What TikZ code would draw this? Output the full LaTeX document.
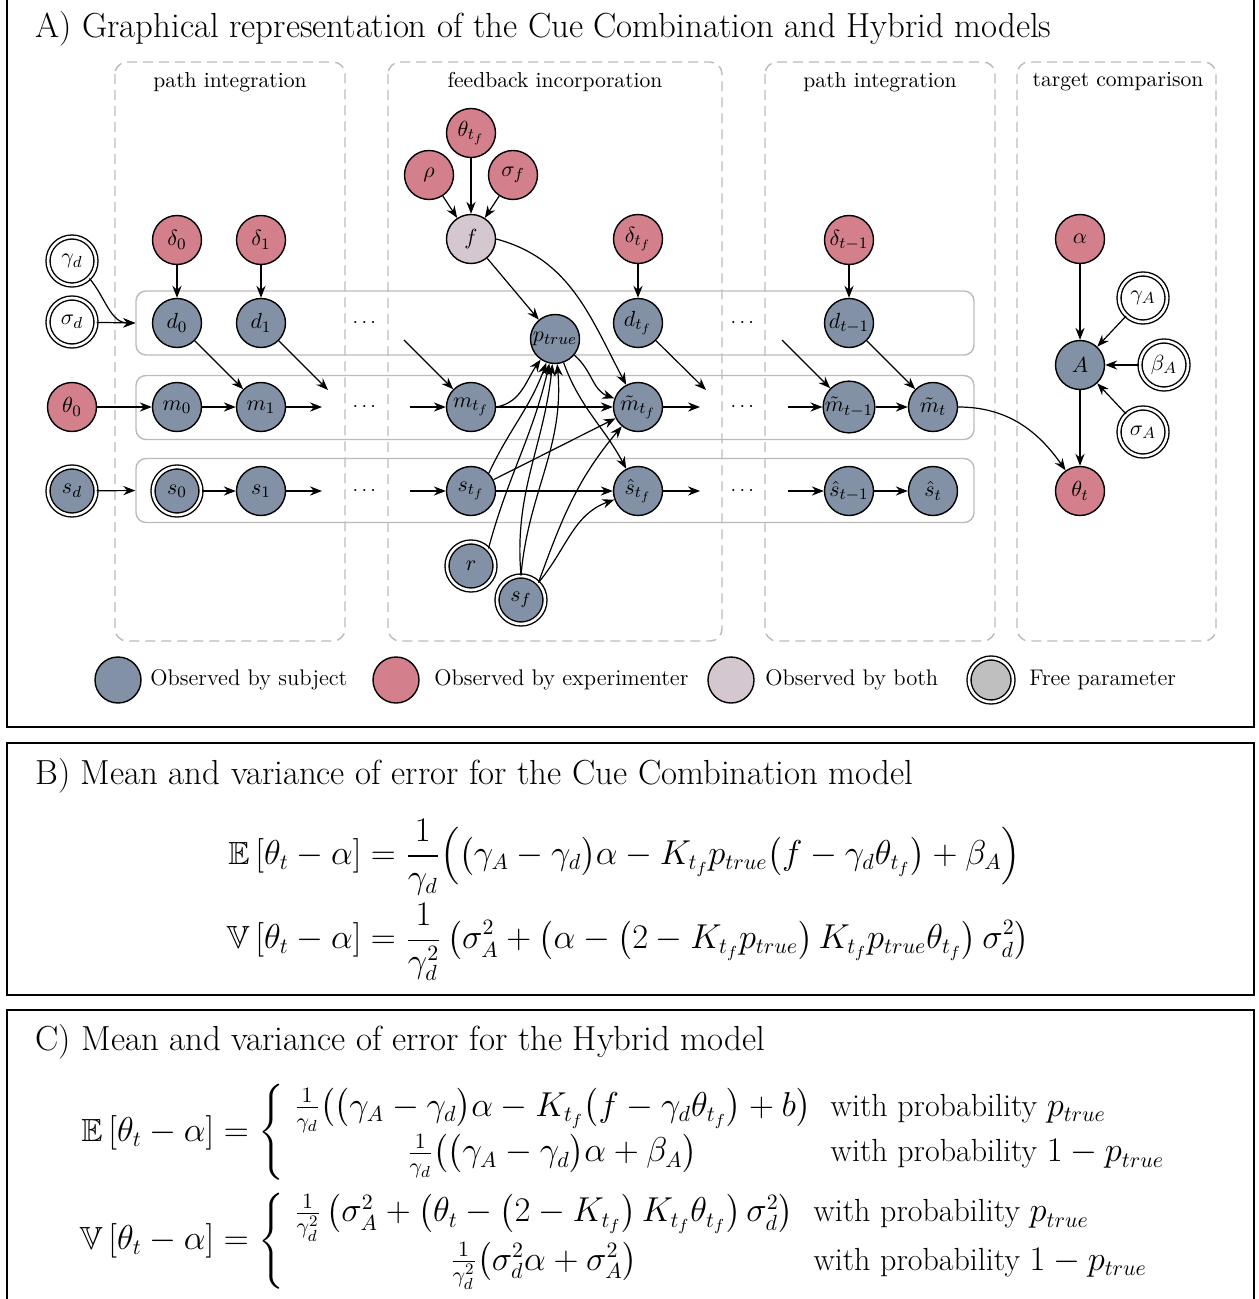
\documentclass[tikz,border=0pt]{standalone}
\usepackage{amsmath,amssymb}
\usetikzlibrary{arrows.meta,calc}
\definecolor{obsblue}{HTML}{8391A6}
\definecolor{expred}{HTML}{D4808C}
\definecolor{bothpur}{HTML}{D4C7D0}
\definecolor{freegray}{HTML}{BFBFBF}
\definecolor{boxgray}{HTML}{BBBBBB}
\tikzset{
  nd/.style={circle, draw=black, line width=0.7pt, minimum size=24.5pt, inner sep=0pt, font=\fontsize{10.95}{13}\selectfont},
  obsnode/.style={nd, fill=obsblue},
  expnode/.style={nd, fill=expred},
  bothnode/.style={nd, fill=bothpur},
  freenode/.style={nd, fill=white, double=white, double distance=1.3pt, minimum size=24pt},
  freeobs/.style={nd, fill=obsblue, double=white, double distance=1.3pt, minimum size=24pt},
  arr/.style={-{Stealth[length=6pt,width=4.6pt,inset=2pt]}, line width=0.6pt},
  colbox/.style={draw=boxgray, dashed, dash pattern=on 5pt off 3pt, line width=0.7pt, rounded corners=6pt},
  rowbox/.style={draw=boxgray, line width=0.7pt, rounded corners=5pt, minimum width=419pt, minimum height=32pt, inner sep=0pt},
  collabel/.style={font=\fontsize{10.8}{12}\selectfont},
  legtext/.style={font=\fontsize{11.3}{13}\selectfont, anchor=west, inner sep=0pt},
  title/.style={font=\fontsize{17.4}{20}\selectfont, anchor=base west, inner sep=0pt},
  dotsnode/.style={font=\fontsize{10}{12}\selectfont, inner sep=0pt}
}
\begin{document}
\begin{tikzpicture}[x=0.5pt, y=-0.5pt]
\useasboundingbox (0,0) rectangle (1258,1299);
% panel frames
\draw[line width=0.6pt] (7,-5) rectangle (1254,727);
\draw[line width=0.6pt] (7,743) rectangle (1254,995);
\draw[line width=0.6pt] (7,1010) rectangle (1254,1310);
% titles
\node[title] (tA) at (35,38) {A) Graphical representation of the Cue Combination and Hybrid models};
\node[title] (tB) at (35,784) {B) Mean and variance of error for the Cue Combination model};
\node[title] (tC) at (35,1050) {C) Mean and variance of error for the Hybrid model};
% column boxes
\draw[colbox] (115,62) rectangle (345,641);
\draw[colbox] (388,62) rectangle (722,641);
\draw[colbox] (765,62) rectangle (995,641);
\draw[colbox] (1017,62) rectangle (1216,641);
\node[collabel] (c1) at (230,82) {path integration};
\node[collabel] (c2) at (555,82) {feedback incorporation};
\node[collabel] (c3) at (880,82) {path integration};
\node[collabel] (c4) at (1118,82) {target comparison};
% row boxes
\node[rowbox] (drow) at (555,323) {};
\node[rowbox] (mrow) at (555,407.5) {};
\node[rowbox] (srow) at (555,490.5) {};
% left nodes
\node[freenode] (gd) at (72,261) {$\gamma_d$};
\node[freenode] (sgd) at (72,322) {$\sigma_d$};
\node[expnode] (th0) at (72,407) {$\theta_0$};
\node[freeobs] (sd) at (72,491) {$s_d$};
% first path integration
\node[expnode] (de0) at (177,240) {$\delta_0$};
\node[expnode] (de1) at (261,240) {$\delta_1$};
\node[obsnode] (d0) at (177,323) {$d_0$};
\node[obsnode] (d1) at (261,323) {$d_1$};
\node[obsnode] (m0) at (177,407) {$m_0$};
\node[obsnode] (m1) at (261,407) {$m_1$};
\node[freeobs] (s0) at (177,491) {$s_0$};
\node[obsnode] (s1) at (261,491) {$s_1$};
\node[dotsnode] (dd1) at (366,323) {$\cdots$};
\node[dotsnode] (dd2) at (366,407) {$\cdots$};
\node[dotsnode] (dd3) at (366,491) {$\cdots$};
% feedback incorporation
\node[expnode] (thtf) at (471,133) {$\theta_{t_f}$};
\node[expnode] (rho) at (429,175) {$\rho$};
\node[expnode] (sgf) at (513,175) {$\sigma_f$};
\node[bothnode] (f) at (471,239) {$f$};
\node[expnode] (detf) at (638,239) {$\delta_{t_f}$};
\node[obsnode] (dtf) at (638,323) {$d_{t_f}$};
\node[obsnode] (pt) at (555,339) {$p_{true}$};
\node[obsnode] (mtf) at (471,407) {$m_{t_f}$};
\node[obsnode] (stf) at (471,491) {$s_{t_f}$};
\node[obsnode] (mttf) at (638,407) {$\tilde m_{t_f}$};
\node[obsnode] (shtf) at (638,491) {$\hat s_{t_f}$};
\node[freeobs] (r) at (471,566) {$r$};
\node[freeobs] (sf) at (521,600) {$s_f$};
\node[dotsnode] (dd4) at (744,323) {$\cdots$};
\node[dotsnode] (dd5) at (744,407) {$\cdots$};
\node[dotsnode] (dd6) at (744,491) {$\cdots$};
% second path integration
\node[expnode] (detm) at (849,240) {$\delta_{t-1}$};
\node[obsnode] (dtm) at (849,323) {$d_{t-1}$};
\node[obsnode] (mttm) at (849,407) {$\tilde m_{t-1}$};
\node[obsnode] (mtt) at (933,407) {$\tilde m_t$};
\node[obsnode] (shtm) at (849,491) {$\hat s_{t-1}$};
\node[obsnode] (sht) at (933,491) {$\hat s_t$};
% target comparison
\node[expnode] (al) at (1080,239) {$\alpha$};
\node[obsnode] (A) at (1080,365) {$A$};
\node[expnode] (tht) at (1080,491) {$\theta_t$};
\node[freenode] (gA) at (1143,298) {$\gamma_A$};
\node[freenode] (bA) at (1164,365) {$\beta_A$};
\node[freenode] (sA) at (1143,432) {$\sigma_A$};
% free coordinates
\coordinate (e1) at (328,390);
\coordinate (e2) at (322,407);
\coordinate (e3) at (322,491);
\coordinate (i1) at (404,340);
\coordinate (i2) at (410,407);
\coordinate (i3) at (410,491);
\coordinate (e4) at (706,390);
\coordinate (e5) at (700,407);
\coordinate (e6) at (700,491);
\coordinate (i4) at (782,340);
\coordinate (i5) at (788,407);
\coordinate (i6) at (788,491);
% edges left
\draw[arr] (gd.south east) to[out=-50,in=180] (drow.west);
\draw[arr] (sgd) -- (drow.west);
\draw[arr] (th0) -- (m0);
\draw[arr] (sd) -- (srow.west);
\draw[arr] (de0) -- (d0);
\draw[arr] (de1) -- (d1);
\draw[arr] (d0) -- (m1);
\draw[arr] (d1) -- (e1);
\draw[arr] (m0) -- (m1);
\draw[arr] (m1) -- (e2);
\draw[arr] (s0) -- (s1);
\draw[arr] (s1) -- (e3);
% feedback edges
\draw[arr] (i1) -- (mtf);
\draw[arr] (i2) -- (mtf);
\draw[arr] (i3) -- (stf);
\draw[arr] (thtf) -- (f);
\draw[arr] (rho) -- (f);
\draw[arr] (sgf) -- (f);
\draw[arr] (detf) -- (dtf);
\draw[arr] (f) -- (pt);
\draw[arr] (f.east) to[out=-15,in=118] (mttf);
\draw[arr] (mtf.east) to[out=10,in=-125] (pt);
\draw[arr] (mtf) -- (mttf);
\draw[arr] (stf.north east) to[out=65,in=-110] (pt);
\draw[arr] (stf) -- (mttf);
\draw[arr] (stf) -- (shtf);
\draw[arr] (r.north east) to[out=75,in=-103] (pt);
\draw[arr] (sf.north) to[out=95,in=-96] (pt);
\draw[arr] (sf.north) to[out=85,in=-85] (pt);
\draw[arr] (sf.north east) to[out=70,in=-130] (mttf);
\draw[arr] (sf.north east) to[out=50,in=-160] (shtf);
\draw[arr] (pt) to[out=-40,in=160] (mttf);
\draw[arr] (pt) to[out=-70,in=118] (shtf);
\draw[arr] (dtf) -- (e4);
\draw[arr] (mttf) -- (e5);
\draw[arr] (shtf) -- (e6);
% second path integration edges
\draw[arr] (i4) -- (mttm);
\draw[arr] (i5) -- (mttm);
\draw[arr] (i6) -- (shtm);
\draw[arr] (detm) -- (dtm);
\draw[arr] (dtm) -- (mtt);
\draw[arr] (mttm) -- (mtt);
\draw[arr] (shtm) -- (sht);
\draw[arr] (mtt.east) to[out=0,in=125] (tht);
% target comparison edges
\draw[arr] (al) -- (A);
\draw[arr] (A) -- (tht);
\draw[arr] (gA) -- (A);
\draw[arr] (bA) -- (A);
\draw[arr] (sA) -- (A);
% legend
\node[obsnode, minimum size=23pt] (l1) at (118,680) {};
\node[legtext] (l1t) at (150,680) {Observed by subject};
\node[expnode, minimum size=23pt] (l2) at (396,680) {};
\node[legtext] (l2t) at (434,680) {Observed by experimenter};
\node[bothnode, minimum size=23pt] (l3) at (731,680) {};
\node[legtext] (l3t) at (765,680) {Observed by both};
\node[nd, fill=freegray, double=white, double distance=1.3pt, minimum size=22pt] (l4) at (991,680) {};
\node[legtext] (l4t) at (1029,680) {Free parameter};
% panel B equations
\node[inner sep=0pt, font=\fontsize{16}{19}\selectfont] (eqB) at (628,900) {$\displaystyle
\begin{aligned}
\mathbb{E}\left[\theta_t-\alpha\right] &= \frac{1}{\gamma_d}\Big(\big(\gamma_A-\gamma_d\big)\alpha - K_{t_f}p_{true}\big(f-\gamma_d\theta_{t_f}\big)+\beta_A\Big)\\
\mathbb{V}\left[\theta_t-\alpha\right] &= \frac{1}{\gamma_d^2}\left(\sigma_A^2+\big(\alpha-\big(2-K_{t_f}p_{true}\big)\,K_{t_f}p_{true}\theta_{t_f}\big)\,\sigma_d^2\right)
\end{aligned}$};
% panel C equations
\node[inner sep=0pt, font=\fontsize{16}{19}\selectfont] (eqC) at (628,1187) {$\displaystyle
\begin{aligned}
\mathbb{E}\left[\theta_t-\alpha\right] &= \left\{\begin{array}{cl}
\frac{1}{\gamma_d}\big(\big(\gamma_A-\gamma_d\big)\alpha - K_{t_f}\big(f-\gamma_d\theta_{t_f}\big)+b\big) & \text{with probability } p_{true}\\[1pt]
\frac{1}{\gamma_d}\big(\big(\gamma_A-\gamma_d\big)\alpha + \beta_A\big) & \text{with probability } 1-p_{true}
\end{array}\right.\\[2pt]
\mathbb{V}\left[\theta_t-\alpha\right] &= \left\{\begin{array}{cl}
\frac{1}{\gamma_d^2}\left(\sigma_A^2+\big(\theta_t-\big(2-K_{t_f}\big)\,K_{t_f}\theta_{t_f}\big)\,\sigma_d^2\right) & \text{with probability } p_{true}\\[1pt]
\frac{1}{\gamma_d^2}\big(\sigma_d^2\alpha + \sigma_A^2\big) & \text{with probability } 1-p_{true}
\end{array}\right.
\end{aligned}$};
\end{tikzpicture}
\end{document}
